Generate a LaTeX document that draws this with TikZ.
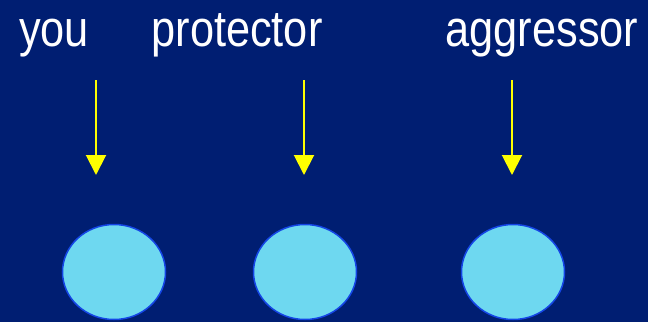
\documentclass[tikz,border=0pt]{standalone}
\usepackage{fontspec}
\usepackage{xcolor}
\usepackage{tikz}
\usetikzlibrary{shapes,arrows.meta,positioning}
\newfontfamily\labelfont[FakeStretch=0.85]{Liberation Sans}
\definecolor{slidenavy}{RGB}{0, 30, 114}
\definecolor{pointeryellow}{RGB}{255, 255, 0}
\definecolor{ballcyan}{RGB}{110, 216, 240}
\definecolor{ballblue}{RGB}{20, 70, 230}

\begin{document}
\begin{tikzpicture}[x=1pt, y=-1pt]
        % Background
        \fill[slidenavy] (0, 0) rectangle (648, 322);
        \useasboundingbox (0, 0) rectangle (648, 322);

        % Labels
        \node[anchor=base, inner sep=0pt, text=white, font=\labelfont\fontsize{51}{60}\selectfont] (you) at (54, 46) {you};
        \node[anchor=base, inner sep=0pt, text=white, font=\labelfont\fontsize{51}{60}\selectfont] (protector) at (237, 46) {protector};
        \node[anchor=base, inner sep=0pt, text=white, font=\labelfont\fontsize{51}{60}\selectfont] (aggressor) at (542, 46) {aggressor};

        % Arrow ends
        \coordinate (youtop) at (96, 80);
        \coordinate (youtip) at (96, 175);
        \coordinate (protectortop) at (304, 80);
        \coordinate (protectortip) at (304, 175);
        \coordinate (aggressortop) at (512, 80);
        \coordinate (aggressortip) at (512, 175);

        % Pointers
        \draw[-{Triangle[width=20pt, length=20pt]}, line width=2pt, color=pointeryellow] (youtop) -- (youtip);
        \draw[-{Triangle[width=20pt, length=20pt]}, line width=2pt, color=pointeryellow] (protectortop) -- (protectortip);
        \draw[-{Triangle[width=20pt, length=20pt]}, line width=2pt, color=pointeryellow] (aggressortop) -- (aggressortip);

        % Players
        \node[ellipse, draw=ballblue, fill=ballcyan, line width=1.5pt, minimum width=103pt, minimum height=95pt, inner sep=0pt] (youball) at (114, 272) {};
        \node[ellipse, draw=ballblue, fill=ballcyan, line width=1.5pt, minimum width=103pt, minimum height=95pt, inner sep=0pt] (protectorball) at (305, 272) {};
        \node[ellipse, draw=ballblue, fill=ballcyan, line width=1.5pt, minimum width=103pt, minimum height=95pt, inner sep=0pt] (aggressorball) at (513, 272) {};
\end{tikzpicture}
\end{document}
